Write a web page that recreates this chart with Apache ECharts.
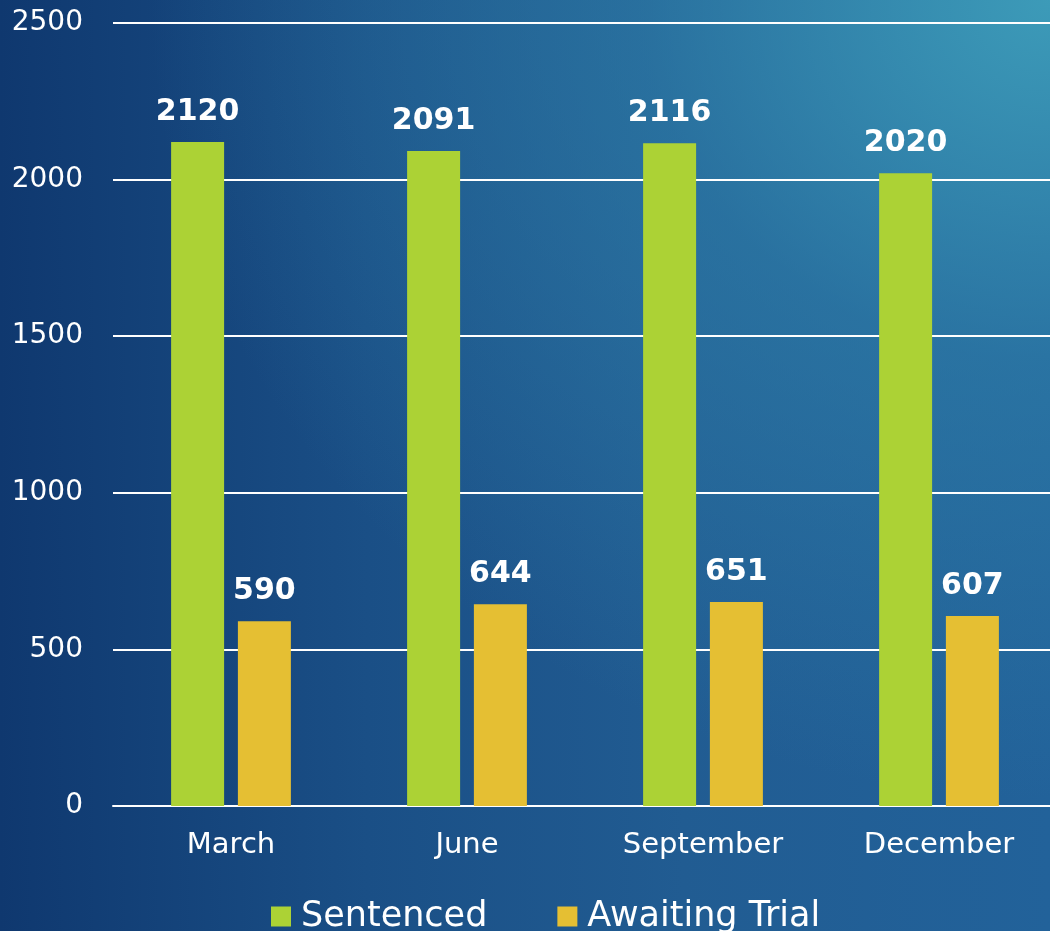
<!DOCTYPE html>
<html>
<head>
<meta charset="utf-8">
<script src="https://cdn.jsdelivr.net/npm/echarts@6/dist/echarts.min.js"></script>
<style>
html,body{margin:0;padding:0;}
#c{width:1050px;height:931px;
background:
 radial-gradient(ellipse 900px 800px at 100% 0%, rgba(62,158,186,0.95) 0%, rgba(48,130,170,0.55) 45%, rgba(36,100,150,0) 100%),
 linear-gradient(to right, #0f386f 0%, #1a4f86 35%, #215c92 65%, #22629a 100%);}
</style>
</head>
<body>
<div id="c"></div>
<script>
const categories = ['March', 'June', 'September', 'December'];
const sentenced = [2120, 2091, 2116, 2020];
const awaitingTrial = [590, 644, 651, 607];
const yTicks = { min: 0, max: 2500, interval: 500 };

const chart = echarts.init(document.getElementById('c'), null, { renderer: 'canvas' });
const font = '"DejaVu Sans", sans-serif';
const labelStyle = {
  show: true, position: 'top', distance: 15,
  color: '#ffffff', fontWeight: 'bold', fontSize: 30, fontFamily: font
};
chart.setOption({
  backgroundColor: 'transparent',
  animation: false,
  grid: { left: 113, right: -7, top: 23, bottom: 125, containLabel: false, outerBoundsMode: 'none' },
  legend: {
    bottom: -8, left: 266, padding: 5,
    icon: 'rect', itemWidth: 20, itemHeight: 20, itemGap: 70,
    textStyle: { color: '#ffffff', fontSize: 35, fontFamily: font, padding: [0, 0, 0, 5] },
    data: ['Sentenced', 'Awaiting Trial']
  },
  xAxis: {
    type: 'category', data: categories,
    axisLine: { show: true, lineStyle: { color: '#ffffff', width: 2 } },
    axisTick: { show: false },
    axisLabel: { color: '#ffffff', fontSize: 29, fontFamily: font, margin: 25 }
  },
  yAxis: {
    type: 'value', min: yTicks.min, max: yTicks.max, interval: yTicks.interval,
    axisLine: { show: false }, axisTick: { show: false },
    splitLine: { lineStyle: { color: '#ffffff', width: 2 } },
    axisLabel: { color: '#ffffff', fontSize: 28, fontFamily: font, margin: 30,
      formatter: function (v) { return String(v); } }
  },
  series: [
    { name: 'Sentenced', type: 'bar', data: sentenced, barWidth: 53, barGap: '26%',
      itemStyle: { color: '#acd235' }, label: labelStyle },
    { name: 'Awaiting Trial', type: 'bar', data: awaitingTrial, barWidth: 53,
      itemStyle: { color: '#e5bf33' }, label: labelStyle }
  ]
});
</script>
</body>
</html>
